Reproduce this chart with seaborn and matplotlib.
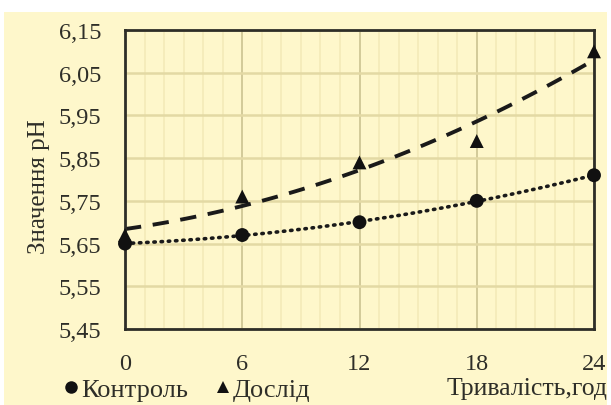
import matplotlib
matplotlib.use("Agg")
import matplotlib.pyplot as plt
import seaborn as sns
import pandas as pd
from matplotlib.patches import Rectangle
from matplotlib.ticker import MultipleLocator

# data
hours = [0, 6, 12, 18, 24]
control = [5.65, 5.67, 5.70, 5.75, 5.81]
dosl = [5.67, 5.76, 5.84, 5.89, 6.10]
groups = ["Контроль", "Дослід"]
yticks = [5.45, 5.55, 5.65, 5.75, 5.85, 5.95, 6.05, 6.15]

df = pd.DataFrame({
    "t": hours * 2,
    "ph": control + dosl,
    "grp": [groups[0]] * len(hours) + [groups[1]] * len(hours),
})

bg = "#FEF7CB"
ink = "#2e2e28"

sns.set_style("white")
plt.rcParams["font.family"] = ["Liberation Serif", "DejaVu Serif"]

fig = plt.figure(figsize=(6.11, 4.06), dpi=100, facecolor="white")
fig.patches.append(Rectangle((0.006, 0), 0.988, 1 - 13 / 406, transform=fig.transFigure,
                             facecolor=bg, edgecolor="none", zorder=-10))
ax = fig.add_axes([125 / 611, 1 - 330 / 406, (594 - 125) / 611, (330 - 31) / 406])
ax.set_facecolor(bg)

# trend lines (2nd order polynomial, like the spreadsheet trendline)
sns.regplot(data=df[df.grp == groups[0]], x="t", y="ph", order=2, ci=None,
            scatter=False, ax=ax, color="#1a1a1a",
            line_kws=dict(ls=(0, (0.4, 1.6)), lw=2.6, dash_capstyle="round"))
sns.regplot(data=df[df.grp == groups[1]], x="t", y="ph", order=2, ci=None,
            scatter=False, ax=ax, color="#1a1a1a",
            line_kws=dict(ls=(0, (4.2, 3)), lw=2.8))

sns.scatterplot(data=df, x="t", y="ph", hue="grp", style="grp",
                markers={groups[0]: "o", groups[1]: "^"},
                palette={groups[0]: "#111111", groups[1]: "#111111"},
                s=100, edgecolor="#111111", linewidth=0, ax=ax, clip_on=False, zorder=5)

ax.set_xlim(0, 24)
ax.set_ylim(5.45, 6.15)
ax.set_xticks(hours)
ax.set_yticks(yticks)
ax.set_yticklabels([f"{v:.2f}".replace(".", ",") for v in yticks])
ax.xaxis.set_minor_locator(MultipleLocator(1))

ax.grid(True, which="major", axis="y", color="#E3D9A4", lw=1.8)
ax.grid(True, which="major", axis="x", color="#CBC391", lw=1.2)
ax.grid(True, which="minor", axis="x", color="#F5EBBA", lw=1.3)
ax.set_axisbelow(True)

for side in ["left", "bottom", "top", "right"]:
    ax.spines[side].set_visible(True)
    ax.spines[side].set_color(ink)
    ax.spines[side].set_linewidth(2.0)

ax.tick_params(axis="both", which="both", length=0, labelsize=17.5, colors=ink)
ax.tick_params(axis="x", pad=17)
ax.tick_params(axis="y", pad=17)

ax.set_ylabel("Значення pH", fontsize=18, color=ink)
ax.yaxis.set_label_coords(-(125 - 50) / 469, 0.48)
ax.set_xlabel("Тривалість,год", fontsize=18.5, color=ink)
ax.xaxis.set_label_coords(0.857, -0.16)

sns.move_legend(ax, "center left", bbox_to_anchor=(65 / 611, 1 - 390 / 406),
                bbox_transform=fig.transFigure, ncol=2, title=None, frameon=False,
                fontsize=19, handlelength=0.45, handletextpad=0.15,
                columnspacing=1.1, borderpad=0, borderaxespad=0, labelcolor=ink)
for h in ax.get_legend().legend_handles:
    h.set_markersize(9)

fig.savefig("out.png", dpi=100, facecolor="white")
